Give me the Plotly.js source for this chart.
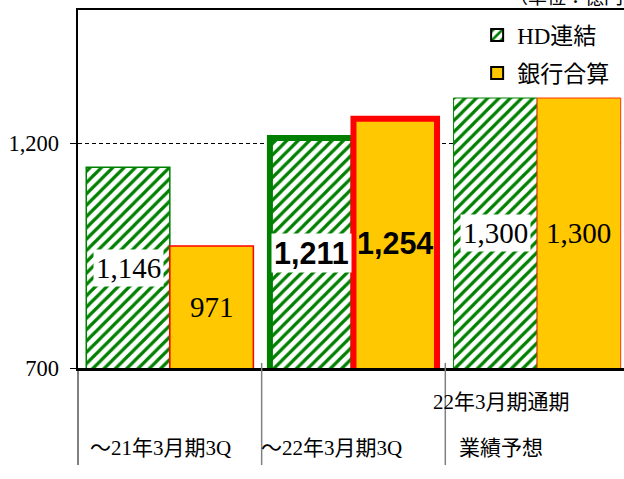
<!DOCTYPE html>
<html><head><meta charset="utf-8">
<script src="https://cdn.plot.ly/plotly-3.0.1.min.js"></script>
<style>html,body{margin:0;padding:0;overflow:hidden;background:#fff}</style>
</head><body><div id="chart" style="width:624px;height:479px"></div>
<script>
// ---- data ----
const categories = ['～21年3月期3Q', '～22年3月期3Q', '22年3月期通期 業績予想'];
const labelLine1 = ['', '', '22年3月期通期'];
const labelLine2 = ['～21年3月期3Q', '～22年3月期3Q', '業績予想'];
const hdValues = [1146, 1211, 1300];
const bankValues = [971, 1254, 1300];
const seriesNames = ['HD連結', '銀行合算'];
const yTickVals = [700, 1200];
const yTickText = ['700', '1,200'];
const unitLabel = '（単位：億円）';

// ---- style ----
const Y_MIN = 700, Y_MAX = 1495.6;
const BARGAP = 0.09;
const SERIF = 'Liberation Serif, Noto Sans CJK JP, serif';
const SANS = 'Liberation Sans, Arial, sans-serif';
const GREEN = '#008000', RED = '#FF0000', YELLOW = '#FFC800';
const hdLineW = [1.5, 6, 1];
const bankLineW = [1.5, 6, 1];
const bankLineC = [RED, RED, '#FF3300'];
const labelFont = [
  {family: SERIF, size: 29, color: 'black'},
  {family: SANS, size: 30.5, color: 'black', weight: 'bold'},
  {family: SERIF, size: 29, color: 'black'}
];
const labelXShift = [-9, -22, -36];

const fmt = v => v.toLocaleString('en-US');
const hdPattern = {shape: '/', fgcolor: GREEN, bgcolor: 'white', size: 8, solidity: 0.4, fillmode: 'replace'};

const traces = [
  {type: 'bar', name: seriesNames[0], x: categories, y: hdValues, showlegend: false, hoverinfo: 'skip',
   marker: {color: 'white', pattern: hdPattern, line: {color: GREEN, width: hdLineW}}},
  {type: 'bar', name: seriesNames[1], x: categories, y: bankValues, showlegend: false, hoverinfo: 'skip',
   marker: {color: YELLOW, line: {color: bankLineC, width: bankLineW}}},
  // legend-only entries (separate overlay axis so they do not shift the groups)
  {type: 'bar', name: seriesNames[0], x: [categories[0]], y: [null], xaxis: 'x2', legendgroup: 'a',
   marker: {color: 'white', pattern: hdPattern, line: {color: 'black', width: 2}}},
  {type: 'bar', name: seriesNames[1], x: [categories[0]], y: [null], xaxis: 'x2', legendgroup: 'b',
   marker: {color: YELLOW, line: {color: 'black', width: 2}}}
];

const annotations = [];
const half = (1 - BARGAP) / 4;
hdValues.forEach((v, i) => {
  annotations.push({x: i - half, y: (Y_MIN + v) / 2, xref: 'x', yref: 'y', text: fmt(v),
    showarrow: false, bgcolor: 'white', borderpad: 2, font: labelFont[i]});
});
bankValues.forEach((v, i) => {
  annotations.push({x: i + half, y: (Y_MIN + v) / 2, xref: 'x', yref: 'y', text: fmt(v),
    showarrow: false, font: labelFont[i]});
});
const catFont = {family: SERIF, size: 21, color: 'black'};
categories.forEach((c, i) => {
  if (labelLine1[i]) annotations.push({x: i, xref: 'x', y: -0.095, yref: 'paper', yanchor: 'middle',
    text: labelLine1[i], showarrow: false, xshift: labelXShift[i], font: catFont});
  annotations.push({x: i, xref: 'x', y: -0.2235, yref: 'paper', yanchor: 'middle', text: labelLine2[i],
    showarrow: false, xshift: labelXShift[i], font: catFont});
});
annotations.push({x: 0.785, xref: 'paper', xanchor: 'left', y: 1.034, yref: 'paper', yanchor: 'middle',
  text: unitLabel, showarrow: false, font: {family: SERIF, size: 19, color: 'black'}});

const shapes = [
  {type: 'line', xref: 'paper', x0: 0, x1: 0, yref: 'paper', y0: 0, y1: -0.271, line: {color: 'black', width: 1}},
  {type: 'line', xref: 'x', x0: 0.5, x1: 0.5, yref: 'paper', y0: 0.014, y1: -0.271, line: {color: '#808080', width: 1.5}},
  {type: 'line', xref: 'x', x0: 1.5, x1: 1.5, yref: 'paper', y0: 0.014, y1: -0.271, line: {color: '#808080', width: 1.5}}
];

const layout = {
  width: 624, height: 479,
  margin: {l: 78, r: 0, t: 10, b: 111, pad: 0},
  paper_bgcolor: 'white', plot_bgcolor: 'white',
  barmode: 'group', bargap: BARGAP, bargroupgap: 0,
  showlegend: true,
  xaxis: {type: 'category', range: [-0.5, 2.473], showticklabels: false, ticks: '',
    showline: true, mirror: true, linecolor: 'black', linewidth: 2.5, showgrid: false, zeroline: false, fixedrange: true},
  xaxis2: {type: 'category', overlaying: 'x', anchor: 'y', visible: false, range: [-0.5, 2.473]},
  yaxis: {range: [Y_MIN, Y_MAX], tickmode: 'array', tickvals: yTickVals, ticktext: yTickText,
    ticks: 'outside', ticklen: 6, tickcolor: 'black', tickwidth: 1,
    showline: true, linecolor: 'black', linewidth: 2.5,
    showgrid: true, gridcolor: 'black', griddash: '4px,3px', gridwidth: 1, zeroline: false,
    tickfont: {family: SERIF, size: 22.5, color: 'black'}, ticklabelstandoff: 6, fixedrange: true},
  legend: {x: 0.731, xanchor: 'left', y: 0.99, yanchor: 'top', bgcolor: 'rgba(0,0,0,0)',
    font: {family: '"Liberation Serif", "Noto Sans CJK JP"', size: 23, color: 'black'}, traceorder: 'grouped', tracegroupgap: 5,
    itemclick: false, itemdoubleclick: false},
  annotations: annotations,
  shapes: shapes
};

Plotly.newPlot('chart', traces, layout, {staticPlot: true, displayModeBar: false}).then(() => {
  document.querySelectorAll('.legendtext').forEach(t => {
    t.style.fontFamily = '"Liberation Serif", "Noto Sans CJK JP", serif';
  });
});
</script>
</body></html>
